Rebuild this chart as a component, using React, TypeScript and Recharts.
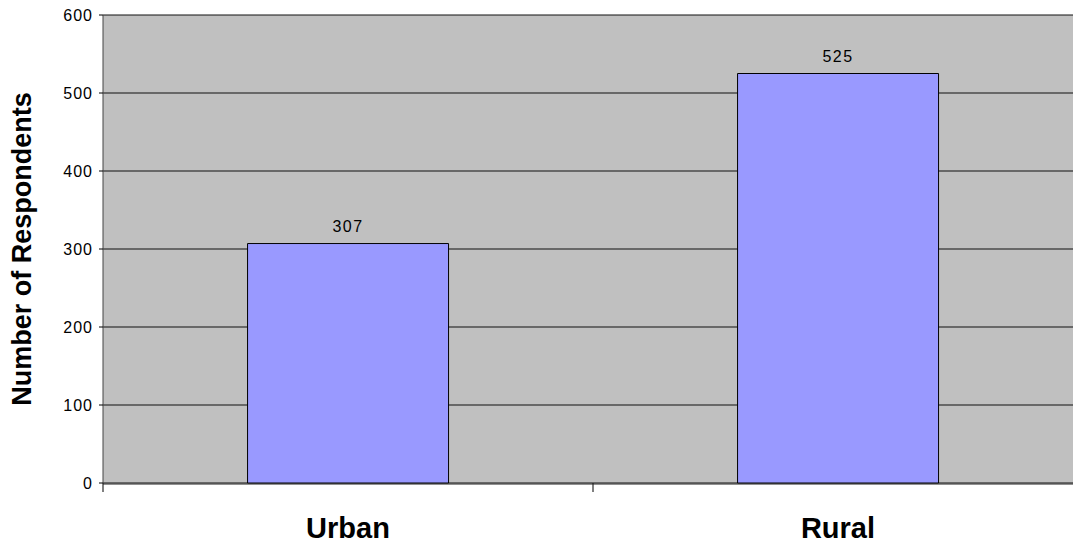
import React from 'react';
import { BarChart, Bar, XAxis, YAxis, CartesianGrid, LabelList } from 'recharts';

const categories = ['Urban', 'Rural'];
const respondents = [307, 525];
const yTicks = [0, 100, 200, 300, 400, 500, 600];
// category boundaries, for the tick marks under the x axis
const edgeTicks = [0, 1, 2];

const data = categories.map((name, i) => ({ name, value: respondents[i], slot: i + 0.5 }));

const font = '"Liberation Sans", Arial, sans-serif';

export default function App() {
  return (
    <div style={{ position: 'absolute', left: 0, top: 0, width: 1073, height: 548, background: '#fff', overflow: 'hidden' }}>
      <BarChart
        width={1073}
        height={548}
        data={data}
        margin={{ top: 15, right: -10, left: 0, bottom: 0 }}
        barCategoryGap="29.5%"
      >
        <CartesianGrid vertical={false} stroke="#111" fill="#C0C0C0" fillOpacity={1} />
        <XAxis
          xAxisId="a"
          dataKey="slot"
          type="number"
          domain={[0, 2]}
          ticks={edgeTicks}
          interval={0}
          allowDataOverflow
          axisLine={false}
          tickSize={9}
          tickFormatter={() => ''}
          tickLine={{ stroke: '#000' }}
          height={1}
          orientation="bottom"
        />
        <XAxis
          dataKey="name"
          xAxisId="b"
          axisLine={{ stroke: '#222', strokeWidth: 1 }}
          tickLine={false}
          tickSize={0}
          tickMargin={33}
          height={64}
          interval={0}
          tick={{ fill: '#000', fontSize: 29, fontWeight: 'bold', fontFamily: font }}
        />
        <YAxis
          domain={[0, 600]}
          ticks={yTicks}
          width={103}
          axisLine={{ stroke: '#444' }}
          tickLine={{ stroke: '#000' }}
          tickSize={4}
          tickMargin={6}
          interval={0}
          tick={{ fill: '#000', fontSize: 16, fontFamily: font, letterSpacing: 1 }}
          label={{
            value: 'Number of Respondents',
            angle: -90,
            position: 'insideLeft',
            dx: 16,
            style: { textAnchor: 'middle', fill: '#000', fontSize: 27, fontWeight: 'bold', fontFamily: font },
          }}
        />
        <Bar dataKey="value" xAxisId="b" fill="#9999FF" stroke="#000" strokeWidth={1} isAnimationActive={false}>
          <LabelList
            dataKey="value"
            position="top"
            offset={12}
            style={{ fill: '#000', fontSize: 16, fontFamily: font, letterSpacing: 1.5 }}
          />
        </Bar>
      </BarChart>
    </div>
  );
}
